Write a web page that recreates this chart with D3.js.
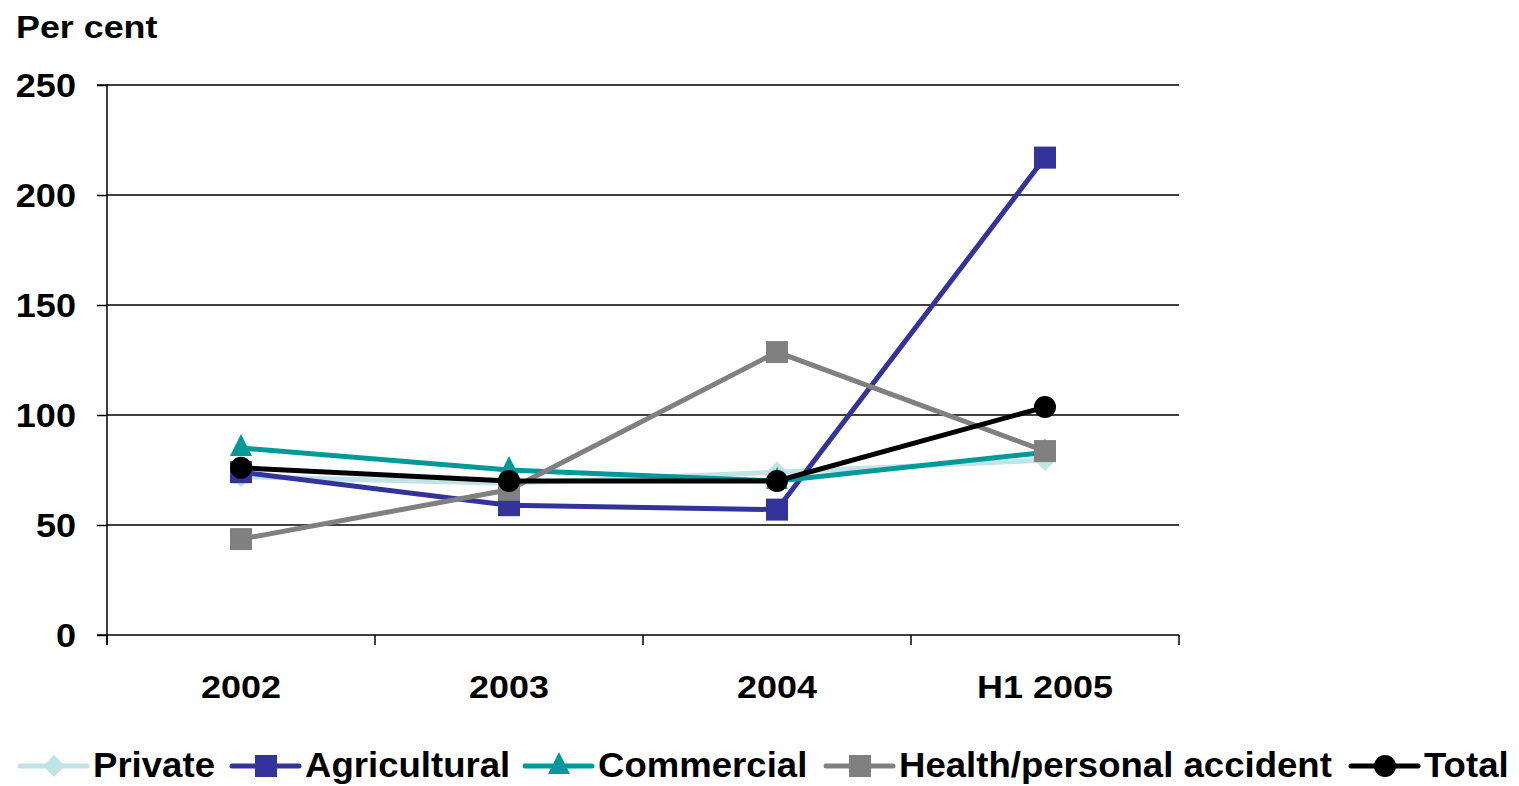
<!DOCTYPE html>
<html><head><meta charset="utf-8">
<script src="https://cdn.jsdelivr.net/npm/d3@7"></script>
<style>body{margin:0;background:#fff;} svg{display:block;font-family:"Liberation Sans",Arial,sans-serif;font-weight:bold;}</style>
</head><body>
<svg id="c" width="1519" height="786"></svg>
<script>
const categories = ["2002","2003","2004","H1 2005"];
const yTicks = [0,50,100,150,200,250];
const seriesNames = ["Private","Agricultural","Commercial","Health/personal accident","Total"];
const privateVals = [72, 69, 74, 79.5];
const agriculturalVals = [74, 59, 57, 217];
const commercialVals = [85, 75, 70, 83];
const healthVals = [43.6, 66, 128.6, 83.6];
const totalVals = [76, 70, 70, 103.6];
const colors = ["#BFE3E6","#333399","#009999","#808080","#000000"];
const symbols = ["diamond","square","triangle","square","circle"];

const series = [privateVals, agriculturalVals, commercialVals, healthVals, totalVals]
  .map((v,i)=>({name:seriesNames[i], values:v, color:colors[i], symbol:symbols[i]}));

const SX = 1.12;
const svg = d3.select("#c");
const L=107, R=1179, T=85, B=635;
const x = d3.scaleBand().domain(categories).range([L,R]);
const y = d3.scaleLinear().domain([0,250]).range([B,T]);
const cx = c => x(c)+x.bandwidth()/2;

// gridlines
svg.append("g").selectAll("line").data(yTicks.filter(d=>d>0)).join("line")
  .attr("x1",L).attr("x2",R).attr("y1",d=>y(d)).attr("y2",d=>y(d))
  .attr("stroke","#000").attr("stroke-width",1.5);

// y axis
const ya = svg.append("g").attr("transform",`translate(${L},0)`)
  .call(d3.axisLeft(y).tickValues(yTicks).tickSize(10).tickPadding(20));
ya.select(".domain").attr("stroke","#000").attr("stroke-width",1.5).attr("d",`M-10,${T}H0V${B+10}`);
ya.selectAll(".tick line").attr("stroke","#000").attr("stroke-width",1.5);
ya.selectAll(".tick text").attr("font-size",32.5).attr("font-weight","bold").attr("fill","#000")
  .attr("font-family","Liberation Sans, Arial, sans-serif").attr("dy",0).attr("x",0)
  .attr("transform",`translate(-31,11) scale(1.11,1)`);

// x axis
const xa = svg.append("g").attr("transform",`translate(0,${B})`)
  .call(d3.axisBottom(x).tickSize(0).tickPadding(0));
xa.select(".domain").attr("stroke","#000").attr("stroke-width",1.5).attr("d",`M${L-10},0H${R}`);
xa.selectAll(".tick text").attr("font-size",31).attr("font-weight","bold").attr("fill","#000")
  .attr("font-family","Liberation Sans, Arial, sans-serif").attr("y",0).attr("dy",0)
  .attr("transform",`translate(0,63) scale(1.16,1)`);
svg.append("g").selectAll("line").data(d3.range(categories.length+1)).join("line")
  .attr("x1",i=>L+i*x.bandwidth()).attr("x2",i=>L+i*x.bandwidth())
  .attr("y1",B).attr("y2",B+10).attr("stroke","#000").attr("stroke-width",1.5);

// title
svg.append("text").attr("transform",`translate(16,38) scale(${SX},1)`).attr("font-size",32).attr("fill","#000").text("Per cent");

function marker(g, s, px, py){
  if(s.symbol==="diamond"){
    g.append("path").attr("d",`M${px},${py-11}L${px+11},${py}L${px},${py+11}L${px-11},${py}Z`).attr("fill",s.color);
  } else if(s.symbol==="square"){
    g.append("rect").attr("x",px-11).attr("y",py-11).attr("width",22).attr("height",22).attr("fill",s.color);
  } else if(s.symbol==="triangle"){
    g.append("path").attr("d",`M${px},${py-14}L${px+11},${py+8}L${px-11},${py+8}Z`).attr("fill",s.color);
  } else {
    g.append("circle").attr("cx",px).attr("cy",py).attr("r",11).attr("fill",s.color);
  }
}

const line = d3.line().x((d,i)=>cx(categories[i])).y(d=>y(d));
series.forEach(s=>{
  const g = svg.append("g");
  g.append("path").attr("d",line(s.values)).attr("fill","none").attr("stroke",s.color).attr("stroke-width",5);
  s.values.forEach((v,i)=>marker(g,s,cx(categories[i]),y(v)));
});

// legend
const legTextX = [93, 305, 598, 899, 1424];
series.forEach((s,i)=>{
  const g = svg.append("g");
  const ly = 766;
  const lx = legTextX[i]-73;
  g.append("line").attr("x1",lx).attr("x2",lx+67).attr("y1",ly).attr("y2",ly)
    .attr("stroke",s.color).attr("stroke-width",5).attr("stroke-linecap","round");
  marker(g,s,lx+34,ly);
  g.append("text").attr("transform",`translate(${legTextX[i]},777) scale(1.06,1)`)
    .attr("font-size",34.5).attr("fill","#000").text(s.name);
});
</script>
</body></html>
